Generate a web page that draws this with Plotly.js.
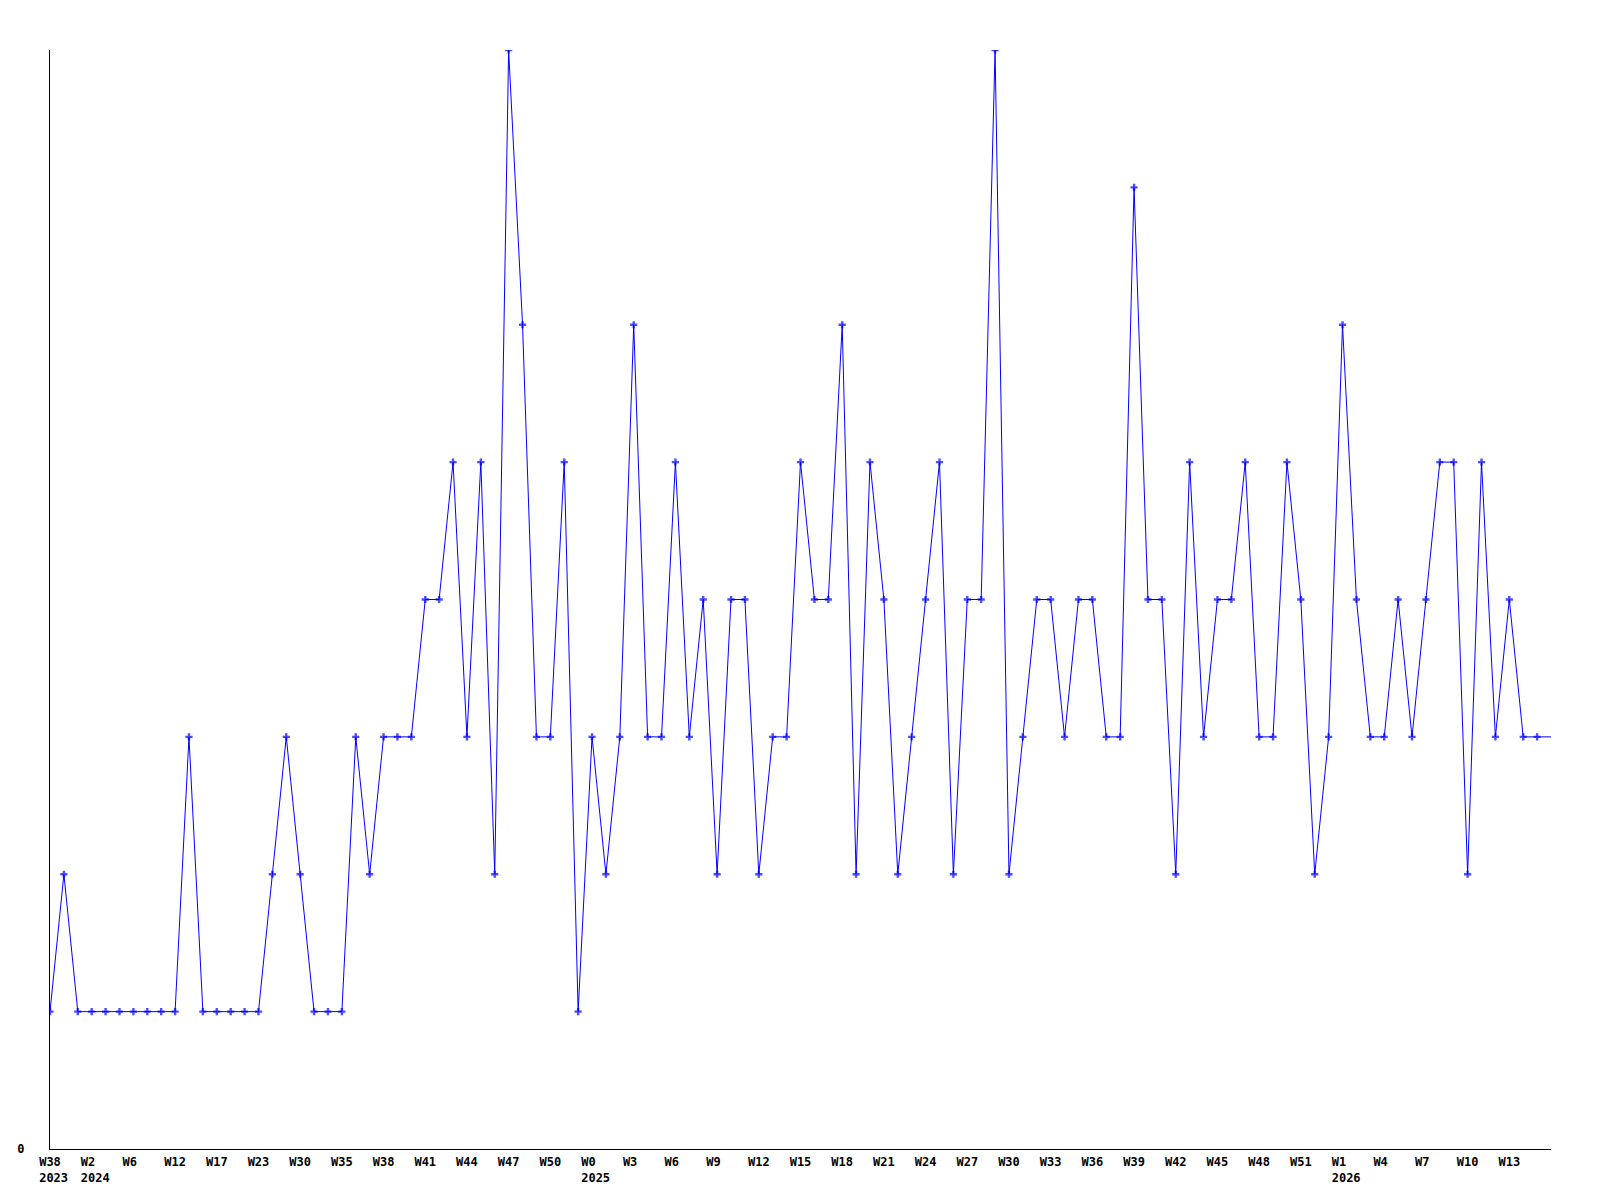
<!DOCTYPE html>
<html>
<head>
<meta charset="utf-8">
<script src="https://cdn.plot.ly/plotly-3.0.1.min.js"></script>
<style>html,body{margin:0;padding:0;background:#fff;}#chart{width:1600px;height:1200px;}</style>
</head>
<body>
<div id="chart"></div>
<script>
// Values per point (weekly counts)
const values = [
  1, 2, 1, 1, 1, 1, 1, 1, 1, 1,
  3, 1, 1, 1, 1, 1, 2, 3, 2, 1,
  1, 1, 3, 2, 3, 3, 3, 4, 4, 5,
  3, 5, 2, 8, 6, 3, 3, 5, 1, 3,
  2, 3, 6, 3, 3, 5, 3, 4, 2, 4,
  4, 2, 3, 3, 5, 4, 4, 6, 2, 5,
  4, 2, 3, 4, 5, 2, 4, 4, 8, 2,
  3, 4, 4, 3, 4, 4, 3, 3, 7, 4,
  4, 2, 5, 3, 4, 4, 5, 3, 3, 5,
  4, 2, 3, 6, 4, 3, 3, 4, 3, 4,
  5, 5, 2, 5, 3, 4, 3, 3, 3
];
// Tick labels, one per every third point
const tickLabels = [
  ["W38", "2023"], ["W2", "2024"], ["W6"], ["W12"], ["W17"], ["W23"], ["W30"], ["W35"], ["W38"],
  ["W41"], ["W44"], ["W47"], ["W50"], ["W0", "2025"], ["W3"], ["W6"], ["W9"], ["W12"], ["W15"],
  ["W18"], ["W21"], ["W24"], ["W27"], ["W30"], ["W33"], ["W36"], ["W39"], ["W42"], ["W45"],
  ["W48"], ["W51"], ["W1", "2026"], ["W4"], ["W7"], ["W10"], ["W13"]
];
const tickStep = 3;

const xs = values.map((v, i) => i);
const markerSizes = values.map((v, i) => i === values.length - 1 ? 0 : 6);
const pad = s => s + "\u00a0".repeat(Math.max(0, 4 - s.length));
// labels are left-aligned in the reference; padded monospace lines are nudged right by half a character
const labelNudge = 0.26;
const tickvals = tickLabels.map((t, i) => i * tickStep + labelNudge);
const ticktext = tickLabels.map(t => t.map(pad).join("<br>"));

const trace = {
  x: xs,
  y: values,
  type: "scatter",
  mode: "lines+markers",
  line: {color: "#0000ff", width: 1},
  marker: {color: "#0000ff", symbol: "cross", size: markerSizes, line: {width: 0}},
  cliponaxis: true,
  hoverinfo: "skip"
};

const tf = {family: "DejaVu Sans Mono, monospace", size: 12, color: "#000", weight: "bold"};

const layout = {
  width: 1600,
  height: 1200,
  margin: {l: 50, r: 49, t: 50, b: 51, pad: 0},
  paper_bgcolor: "#fff",
  plot_bgcolor: "#fff",
  showlegend: false,
  font: {family: "DejaVu Sans Mono, monospace", size: 12, color: "#000"},
  xaxis: {
    range: [0, values.length - 1],
    tickmode: "array",
    tickvals: tickvals,
    ticktext: ticktext,
    tickangle: 0,
    ticks: "",
    showgrid: false,
    zeroline: false,
    showline: true,
    linecolor: "#000",
    linewidth: 1,
    ticklabelstandoff: 2,
    tickfont: tf
  },
  yaxis: {
    range: [0, 8],
    tickmode: "array",
    tickvals: [0],
    ticktext: ["0"],
    ticks: "",
    showgrid: false,
    zeroline: false,
    showline: true,
    linecolor: "#000",
    linewidth: 1,
    ticklabelstandoff: 22,
    tickfont: tf
  }
};

Plotly.newPlot("chart", [trace], layout, {displayModeBar: false, staticPlot: true});
</script>
</body>
</html>
